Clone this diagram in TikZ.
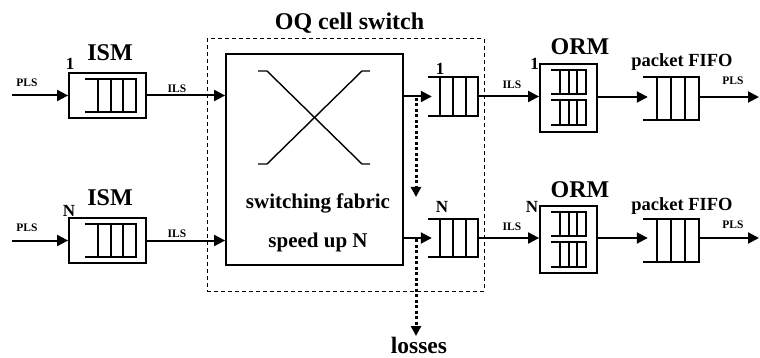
\documentclass[tikz,border=0pt]{standalone}
\usepackage{fontspec}
\setmainfont{Liberation Serif}
\usetikzlibrary{arrows.meta,calc}
\newcommand\drawqueue[1]{%
  \draw[qline] (#1.north west) -- (#1.north east) -- (#1.south east) -- (#1.south west);
  \foreach \f in {0.25,0.5,0.75}{%
    \draw[qline] ($(#1.north west)!\f!(#1.north east)$) -- ($(#1.south west)!\f!(#1.south east)$);}%
}
\begin{document}
\begin{tikzpicture}[x=1pt,y=-1pt,
  frame/.style={draw,line width=1.8pt,inner sep=0pt},
  qarea/.style={inner sep=0pt,draw=none},
  qline/.style={line width=2pt},
  conn/.style={line width=2pt,-{Triangle[length=11pt,width=11pt]}},
  lossline/.style={line width=3pt,dash pattern=on 3pt off 2.5pt,-{Triangle[length=10pt,width=10pt]}},
  biglab/.style={font=\fontsize{24}{24}\selectfont\bfseries,anchor=base,inner sep=0pt},
  midlab/.style={font=\fontsize{21}{21}\selectfont\bfseries,anchor=base,inner sep=0pt},
  fifolab/.style={font=\fontsize{18.5}{18.5}\selectfont\bfseries,anchor=base,inner sep=0pt},
  numlab/.style={font=\fontsize{17}{17}\selectfont\bfseries,anchor=base,inner sep=0pt},
  smalllab/.style={font=\fontsize{11.5}{11.5}\selectfont\bfseries,anchor=base,inner sep=0pt}]
\useasboundingbox (0,0) rectangle (760,358);

% dashed OQ cell switch box
\node[draw,line width=1pt,dash pattern=on 4pt off 3pt,inner sep=0pt,minimum width=277pt,minimum height=252pt] (oq) at (345.5,165) {};
\node[biglab] (oqlab) at (349.5,30) {OQ cell switch};

% switching fabric
\node[frame,minimum width=177pt,minimum height=211pt] (fab) at (314.5,159.5) {};
\draw[line width=1.4pt] (258,71) -- (267,71) -- (362,164) -- (370,164);
\draw[line width=1.4pt] (258,164) -- (267,164) -- (362,71) -- (370,71);
\node[midlab] (sf) at (318,208) {switching fabric};
\node[midlab] (su) at (318,247) {speed up N};

% ---- top row ----
\coordinate (in1) at (12,95.5);
\node[frame,minimum width=77pt,minimum height=45pt] (ism1) at (107.5,95.5) {};
\node[qarea,minimum width=51pt,minimum height=33pt] (ism1q) at (110.5,95.5) {};
\drawqueue{ism1q}
\node[biglab] (ism1lab) at (110,61) {ISM};
\node[numlab] (ism1n) at (70,70) {1};
\node[smalllab] (pls1) at (27,87) {PLS};
\node[smalllab] (ils1) at (177,93) {ILS};

\node[qarea,minimum width=50pt,minimum height=39pt] (q1) at (453,96.5) {};
\drawqueue{q1}
\node[numlab] (q1n) at (440,75) {1};

\node[frame,minimum width=57pt,minimum height=68pt] (orm1) at (568.5,98) {};
\node[qarea,minimum width=35pt,minimum height=24pt] (orm1a) at (568.5,82) {};
\node[qarea,minimum width=35pt,minimum height=25pt] (orm1b) at (568.5,112.5) {};
\drawqueue{orm1a}
\drawqueue{orm1b}
\node[biglab] (orm1lab) at (580,55) {ORM};
\node[numlab] (orm1n) at (534.5,70) {1};
\node[smalllab] (ils1r) at (512,89) {ILS};

\node[qarea,minimum width=56pt,minimum height=43pt] (fifo1) at (671,98.5) {};
\drawqueue{fifo1}
\node[fifolab] (fifo1lab) at (682,66.5) {packet FIFO};
\node[smalllab] (pls1r) at (733,85) {PLS};
\coordinate (out1) at (759,97);

\draw[conn] (in1) -- (ism1.west |- in1);
\draw[conn] (ism1.east) -- (ism1.east -| fab.west);
\draw[conn] (fab.east |- q1) -- ([xshift=4pt]q1.west);
\draw[conn] (q1.east) -- (q1.east -| orm1.west);
\draw[conn] (orm1.east |- out1) -- ([xshift=5pt]fifo1.west |- out1);
\draw[conn] (fifo1.east |- out1) -- (out1);

% ---- bottom row ----
\coordinate (inN) at (12,240.5);
\node[frame,minimum width=77pt,minimum height=45pt] (ismN) at (107.5,240.5) {};
\node[qarea,minimum width=51pt,minimum height=33pt] (ismNq) at (110.5,240.5) {};
\drawqueue{ismNq}
\node[biglab] (ismNlab) at (110,206) {ISM};
\node[numlab] (ismNn) at (69,217) {N};
\node[smalllab] (plsN) at (27,232) {PLS};
\node[smalllab] (ilsN) at (177,237) {ILS};

\node[qarea,minimum width=50pt,minimum height=38pt] (qN) at (453,238) {};
\drawqueue{qN}
\node[numlab] (qNn) at (442,213) {N};

\node[frame,minimum width=57pt,minimum height=67pt] (ormN) at (568.5,239.5) {};
\node[qarea,minimum width=35pt,minimum height=24pt] (ormNa) at (568.5,224) {};
\node[qarea,minimum width=35pt,minimum height=25pt] (ormNb) at (568.5,254.5) {};
\drawqueue{ormNa}
\drawqueue{ormNb}
\node[biglab] (ormNlab) at (580,197) {ORM};
\node[numlab] (ormNn) at (532,213) {N};
\node[smalllab] (ilsNr) at (512,230) {ILS};

\node[qarea,minimum width=56pt,minimum height=43pt] (fifoN) at (671,240.5) {};
\drawqueue{fifoN}
\node[fifolab] (fifoNlab) at (682,211) {packet FIFO};
\node[smalllab] (plsNr) at (733,228) {PLS};
\coordinate (outN) at (759,238);

\draw[conn] (inN) -- (ismN.west |- inN);
\draw[conn] (ismN.east) -- (ismN.east -| fab.west);
\draw[conn] (fab.east |- qN) -- ([xshift=4pt]qN.west);
\draw[conn] (qN.east) -- (qN.east -| ormN.west);
\draw[conn] (ormN.east |- outN) -- ([xshift=5pt]fifoN.west |- outN);
\draw[conn] (fifoN.east |- outN) -- (outN);

% ---- losses ----
\coordinate (d1) at (416,98);
\coordinate (d1e) at (416,197);
\coordinate (d2) at (416,239);
\node[font=\fontsize{23.5}{23.5}\selectfont\bfseries,anchor=base,inner sep=0pt] (loss) at (419,353.5) {losses};
\coordinate (d2e) at (416,336);
\draw[lossline] (d1) -- (d1e);
\draw[lossline] (d2) -- (d2e);
\end{tikzpicture}
\end{document}
